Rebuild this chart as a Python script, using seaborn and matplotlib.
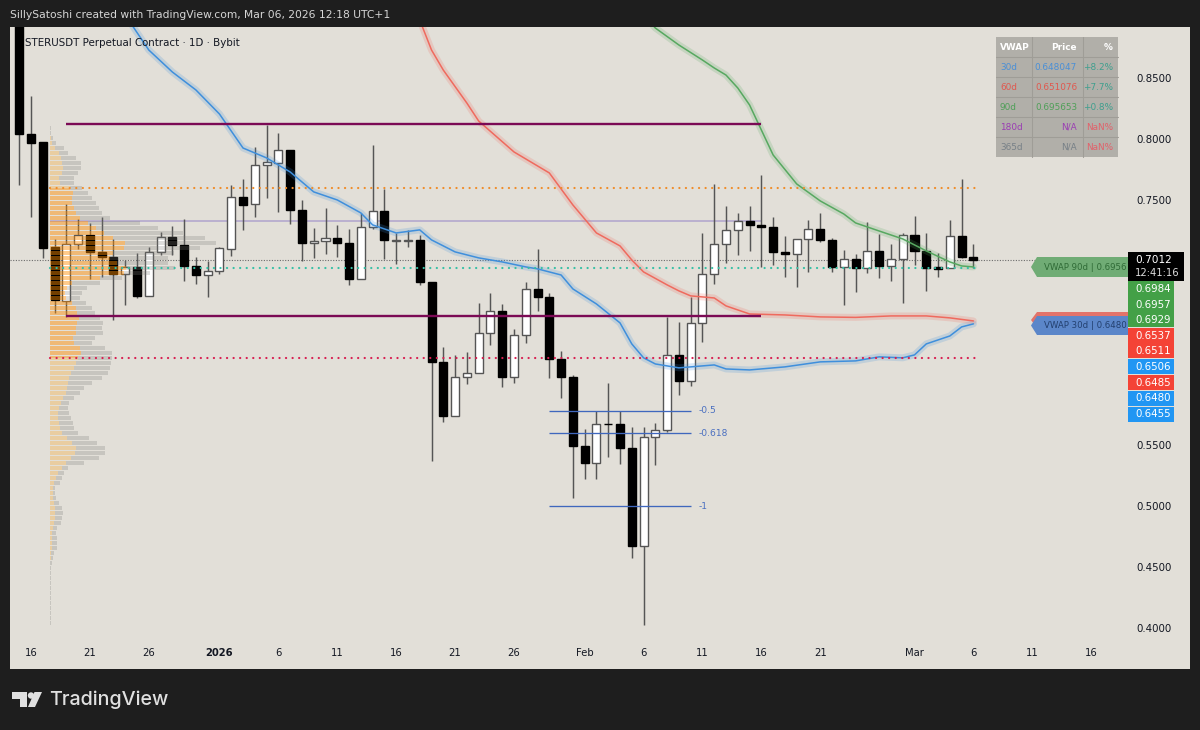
import numpy as np
import pandas as pd
import matplotlib
matplotlib.use("Agg")
import matplotlib.pyplot as plt
from matplotlib.patches import Rectangle, Polygon, Circle
import seaborn as sns

# ---------- candles (day offset from 2025-12-16) ----------
first_day = -1
opens = [0.9300,.8039,.7976,.7115,.6678,.7145,.7216,.7074,.7033,.6894,.6955,.6719,.7077,.7202,.7136,.6962,.6891,.6919,.7104,.7527,.7467,.7786,.7802,.7911,.7420,.7148,.7164,.7194,.7153,.6853,.7284,.7412,.7170,.7170,.7172,.6834,.6179,.5735,.6052,.6089,.6412,.6594,.6052,.6395,.6776,.6711,.6199,.6057,.5487,.5351,.5670,.5670,.5471,.4672,.5561,.5618,.6237,.6019,.6493,.6894,.7142,.7257,.7333,.7300,.7284,.7077,.7058,.7180,.7267,.7175,.6951,.7017,.6946,.7082,.6965,.7022,.7218,.7087,.6951,.6948,.7205,.7038]
closes = [.8039,.7971,.7112,.6684,.7145,.7218,.7079,.7036,.6894,.6955,.6719,.7077,.7202,.7136,.6962,.6891,.6919,.7107,.7527,.7464,.7791,.7810,.7911,.7420,.7148,.7164,.7194,.7153,.6853,.7284,.7412,.7175,.7175,.7175,.6834,.6177,.5735,.6052,.6089,.6414,.6594,.6052,.6395,.6776,.6709,.6199,.6057,.5487,.5351,.5670,.5665,.5471,.4672,.5561,.5618,.6237,.6019,.6496,.6894,.7145,.7259,.7333,.7300,.7284,.7074,.7060,.7180,.7267,.7175,.6951,.7017,.6948,.7082,.6965,.7022,.7218,.7087,.6943,.6938,.7205,.7033,.7011]
highs = [.9500,.8353,.7976,.7183,.7469,.7347,.7314,.7365,.7185,.7009,.7071,.7120,.7240,.7289,.7344,.7033,.7005,.7120,.7625,.7676,.7938,.8118,.8048,.7911,.7502,.7270,.7439,.7297,.7262,.7393,.7952,.7592,.7232,.7257,.7218,.6834,.6297,.6232,.6259,.6657,.6739,.6649,.6447,.6834,.7099,.6739,.6267,.6073,.5626,.5776,.6007,.5776,.5643,.5648,.5675,.6547,.6506,.6711,.7230,.7630,.7455,.7398,.7453,.7709,.7365,.7210,.7180,.7338,.7393,.7189,.7093,.7060,.7322,.7222,.7142,.7230,.7371,.7230,.7066,.7338,.7671,.7142]
lows = [.7625,.7365,.7028,.6578,.6547,.7101,.6856,.6872,.6520,.6643,.6700,.6719,.7052,.7052,.6839,.6812,.6711,.6894,.7044,.7257,.7360,.7516,.7404,.7308,.7005,.7030,.7058,.7038,.6807,.6853,.7265,.7022,.6979,.7120,.6807,.5367,.5684,.5735,.5997,.6089,.6316,.5970,.6007,.6335,.6594,.6046,.5880,.5067,.5217,.5217,.5402,.5340,.4571,.4026,.5329,.5602,.5907,.5983,.6343,.6815,.6984,.7052,.7085,.6951,.6973,.6875,.6793,.6915,.7158,.6911,.6643,.6752,.6902,.6866,.6839,.6657,.6973,.6758,.6875,.6948,.7025,.6948]

# ---------- anchored VWAPs ----------
vwap30_days = [8,10,12,14,16,18,20,22,24,26,28,29,30,31,33,34,36,38,40,42,43,45,46,48,50,51,52,53,55,57,58,59,61,64,67,70,72,74,75,76,78,79,80]
vwap30 = [.9015,.8729,.8549,.8402,.8205,.7927,.7846,.7731,.7568,.7502,.7396,.7298,.7265,.7232,.7257,.7175,.7077,.7028,.6995,.6954,.6938,.6888,.6774,.6651,.6496,.6324,.6210,.6160,.6128,.6144,.6152,.6119,.6111,.6136,.6177,.6185,.6218,.6210,.6234,.6324,.6389,.6463,.6488]
vwap60_days = [33,34,35,37,38,41,44,46,48,50,51,52,54,55,56,58,59,61,64,67,70,73,76,78,80]
vwap60 = [.8974,.8729,.8565,.8295,.8148,.7895,.7723,.7461,.7232,.7126,.7011,.6913,.6807,.6758,.6717,.6700,.6635,.6569,.6561,.6545,.6541,.6553,.6553,.6537,.6512]
vwap90_days = [52,53,55,57,58,59,60,61,63,65,67,69,70,72,74,76,78,79,80]
vwap90 = [.9015,.8909,.8770,.8647,.8582,.8524,.8418,.8279,.7870,.7633,.7494,.7387,.7314,.7248,.7183,.7085,.6995,.6962,.6954]

# ---------- levels ----------
level_high, level_low = 0.8124, 0.6553
poc_orange, poc_teal, poc_red = 0.7597, 0.6946, 0.6212
poc_lilac, last_price = 0.7330, 0.7012
fib_levels = [0.5777, 0.5593, 0.4996]
fib_labels = ["-0.5", "-0.618", "-1"]

# ---------- visible range volume profile (one value per price bin) ----------
profile_total = [1,1.5,3,6,14,18,26,31,31,28,24,24,32,38,42,46,49,52,60,90,108,133,155,166,150,124,118,118,125,100,72,50,37,32,30,36,42,45,50,53,52,53,45,42,55,62,62,61,60,58,52,42,34,30,24,19,18,19,21,23,24,28,39,47,55,55,49,34,18,14,12,10,5,5,6,9,12,13,12,11,7,6,7,7,7,4,3,2,1.5,1.5,1.5,1.5,1.5,1.5,1.5,1.5,1.5,1.5,1.5,1.5]
profile_buy = [.5,.5,1,2,5,9,11,12,13,12,9,10,20,23,22,22,24,26,30,38,46,54,63,75,74,63,60,67,76,74,50,22,17,15,16,22,26,27,29,27,26,26,23,24,30,31,28,26,24,21,19,18,17,16,13,11,9,8,8,9,10,12,17,22,26,25,21,16,12,8,6,4,3,3,3,4,5,5,5,4,3,2,2,2,2,1,1,.5,.5,.5,.5,.5,.5,.5,.5,.5,.5,.5,.5,.5]
profile_anchor_day = 1.6
profile_top, profile_step = 0.8100, 0.00409

# ---------- axis text ----------
price_ticks = [0.40,0.45,0.50,0.55,0.60,0.65,0.70,0.75,0.80,0.85]
date_ticks = ["2025-12-16","2025-12-21","2025-12-26","2026-01-01","2026-01-06","2026-01-11","2026-01-16","2026-01-21","2026-01-26","2026-02-01","2026-02-06","2026-02-11","2026-02-16","2026-02-21","2026-03-01","2026-03-06","2026-03-11","2026-03-16"]
date_labels = ["16","21","26","2026","6","11","16","21","26","Feb","6","11","16","21","Mar","6","11","16"]

tbl_rows = ["30d","60d","90d","180d","365d"]
tbl_price = ["0.648047","0.651076","0.695653","N/A","N/A"]
tbl_pct = ["+8.2%","+7.7%","+0.8%","NaN%","NaN%"]
tbl_cols = ["#4a8fd6","#e0584e","#4f9f58","#9a3db3","#778087"]
pct_cols = ["#3f9f8e","#3f9f8e","#3f9f8e","#e2606a","#e2606a"]

side_values = ["0.6984","0.6957","0.6929","0.6537","0.6511","0.6506","0.6485","0.6480","0.6455"]
side_y = [289,305,320,336,351,367,383,398,414]

DARK, PANEL = "#1e1e1e", "#e2dfd8"
UP_EDGE = "#555555"
sns.set_theme(style="white")
plt.rcParams["font.family"] = ["DejaVu Sans"]

fig = plt.figure(figsize=(12, 7.3), dpi=100, facecolor=DARK)
W, H = 1200, 730

def overlay(z):
    a = fig.add_axes([0, 0, 1, 1], zorder=z)
    a.set_xlim(0, W); a.set_ylim(H, 0); a.axis("off")
    a.patch.set_alpha(0)
    return a

bg = overlay(0)
fg = overlay(5)
bg.add_patch(Rectangle((10, 27), 1180, 642, color=PANEL, lw=0))

L, R, T, B = 10, 1127, 27, 640
ax = fig.add_axes([L/W, 1-B/H, (R-L)/W, (B-T)/H], zorder=2)
ax.patch.set_alpha(0)
for s in ax.spines.values():
    s.set_visible(False)
PX_DAY, X0 = 11.78, 31
PX_PRICE, Y085 = 1222.0, 78
ax.set_xlim((L-X0)/PX_DAY, (R-X0)/PX_DAY)
ax.set_ylim(0.85-(B-Y085)/PX_PRICE, 0.85-(T-Y085)/PX_PRICE)

# candles
days = np.arange(first_day, first_day+len(opens))
o, c = np.array(opens), np.array(closes)
up = c >= o
ax.vlines(days, lows, highs, color=UP_EDGE, lw=1.05, zorder=2)
body_low = np.minimum(o, c)
body_h = np.abs(c-o)
ax.bar(days[up], body_h[up], bottom=body_low[up], width=0.68, color="white", edgecolor=UP_EDGE, lw=1.0, zorder=3)
ax.bar(days[~up], body_h[~up], bottom=body_low[~up], width=0.68, color="black", edgecolor="black", lw=1.0, zorder=3)

# anchored VWAP lines through seaborn, with soft halo
for dd, vv, col in [(vwap30_days, vwap30, "#3f8fdc"), (vwap60_days, vwap60, "#ef6a5e"), (vwap90_days, vwap90, "#57a860")]:
    df = pd.DataFrame({"day": dd, "price": vv})
    sns.lineplot(data=df, x="day", y="price", ax=ax, color=col, lw=5.0, alpha=0.2, errorbar=None, legend=False, zorder=4)
    sns.lineplot(data=df, x="day", y="price", ax=ax, color=col, lw=1.1, errorbar=None, legend=False, zorder=4.5)
ax.set_xlabel(""); ax.set_ylabel("")

# volume profile
bins = profile_top - profile_step*np.arange(len(profile_total))
total = np.array(profile_total)/PX_DAY
buy = np.array(profile_buy)/PX_DAY
stripe = profile_step/2
for shift in (0, stripe):
    lev = bins - shift
    inside = (lev <= poc_orange) & (lev >= poc_red)
    ax.barh(lev[inside], buy[inside], left=profile_anchor_day, height=stripe*0.8, color="#ff8c00", alpha=0.45, lw=0, zorder=5)
    ax.barh(lev[~inside], buy[~inside], left=profile_anchor_day, height=stripe*0.8, color="#ff9d10", alpha=0.27, lw=0, zorder=5)
    ax.barh(lev, (total-buy), left=profile_anchor_day+buy, height=stripe*0.8, color="#7d7d78", alpha=0.26, lw=0, zorder=5)

# horizontal levels
d_start, d_end = profile_anchor_day, 80.5
ax.hlines([level_high, level_low], 2.95, 62, color="#7b0a55", lw=1.7, zorder=6)
ax.hlines(poc_lilac, d_start, 62, color="#9b8cc8", lw=1.2, alpha=0.65, zorder=1.5)
for lv, col in [(poc_orange, "#f08c28"), (poc_teal, "#35c0a5"), (poc_red, "#d81e50")]:
    ax.plot([d_start, d_end], [lv, lv], color=col, lw=1.6, ls=(0, (0.05, 2.9)), dash_capstyle="round", zorder=6)
ax.axhline(last_price, color="#6b6b6b", lw=0.8, ls=(0, (1, 1.4)), zorder=1.8)

# fib levels
for lv, lab in zip(fib_levels, fib_labels):
    ax.hlines(lv, 44, 56, color="#3f67bd", lw=0.95, zorder=6)
    ax.text(56.7, lv, lab, color="#4a6fc0", fontsize=6.6, va="center", ha="left", zorder=6)

# axis ticks
ax.yaxis.tick_right()
ax.set_yticks(price_ticks)
ax.set_yticklabels([f"{p:.4f}" for p in price_ticks], fontsize=7.4, color="#131722")
ax.tick_params(axis="y", length=0, pad=7)
tick_days = [(pd.Timestamp(d)-pd.Timestamp("2025-12-16")).days for d in date_ticks]
ax.set_xticks(tick_days)
ax.set_xticklabels(date_labels, fontsize=7.2, color="#131722")
ax.tick_params(axis="x", length=0, pad=5.5)
for t in ax.get_xticklabels():
    if t.get_text() == "2026":
        t.set_fontweight("bold")

# header + chart title
fig.text(10/W, 1-15/H, "SillySatoshi created with TradingView.com, Mar 06, 2026 12:18 UTC+1", color="#d6d6d6", fontsize=7.75, va="center", ha="left")
fg.text(25, 43, "STERUSDT Perpetual Contract · 1D · Bybit", color="#131722", fontsize=7.4, va="center", ha="left")

# table panel
xs = [996, 1032, 1083, 1118]
ys = [37, 57, 77, 97, 117, 137, 157]
fg.add_patch(Rectangle((xs[0], ys[0]), xs[3]-xs[0], ys[-1]-ys[0], color="#b1afa9", lw=0))
for x in xs[1:-1]:
    fg.plot([x, x], [ys[0], ys[-1]], color="#9f9d97", lw=0.8)
for y in ys[1:-1]:
    fg.plot([xs[0], xs[3]], [y, y], color="#9f9d97", lw=0.8)
tkw = dict(fontsize=6.4, va="center")
fg.text(1000, 47, "VWAP", color="white", ha="left", fontweight="bold", **tkw)
fg.text(1077, 47, "Price", color="white", ha="right", fontweight="bold", **tkw)
fg.text(1113, 47, "%", color="white", ha="right", fontweight="bold", **tkw)
for i in range(5):
    yy = (ys[i+1]+ys[i+2])/2
    fg.text(1000, yy, tbl_rows[i], color=tbl_cols[i], ha="left", **tkw)
    fg.text(1077, yy, tbl_price[i], color=tbl_cols[i], ha="right", **tkw)
    fg.text(1113, yy, tbl_pct[i], color=pct_cols[i], ha="right", **tkw)

# side tags
def pill(y0, y1, col, x0=1037):
    mid = (y0+y1)/2
    fg.add_patch(Polygon([(1031, mid), (x0, y0), (1128, y0), (1128, y1), (x0, y1)], closed=True, color=col, lw=0))
pill(257, 277, "#70ac75")
fg.text(1044, 267, "VWAP 90d | 0.6956", color="#2f6b36", fontsize=6.2, va="center", ha="left")
pill(312, 328, "#e2736a")
pill(316, 335, "#5b86c9")
fg.text(1044, 325.5, "VWAP 30d | 0.6480", color="#23406f", fontsize=6.2, va="center", ha="left")

fg.add_patch(Rectangle((1128, 252), 56, 29, color="black", lw=0))
fg.text(1154, 260, "0.7012", color="white", fontsize=7.6, ha="center", va="center")
fg.text(1157, 273, "12:41:16", color="#dddddd", fontsize=7.2, ha="center", va="center")
for y0, y1, col in [(281, 327, "#43a047"), (328, 358, "#f44336"), (359, 374, "#2196f3"), (375, 390, "#f44336"), (391, 406, "#2196f3"), (407, 422, "#2196f3")]:
    fg.add_patch(Rectangle((1128, y0), 46, y1-y0, color=col, lw=0))
for v, y in zip(side_values, side_y):
    fg.text(1153, y, v, color="white", fontsize=7.4, ha="center", va="center")

# logo
logo = "#e0e0e0"
fg.add_patch(Polygon([(12, 692), (27, 692), (27, 707), (20, 707), (20, 699), (12, 699)], closed=True, color=logo, lw=0))
fg.add_patch(Circle((31, 695.5), 3.2, color=logo, lw=0))
fg.add_patch(Polygon([(34.5, 692), (42, 692), (35, 707), (28, 707)], closed=True, color=logo, lw=0))
fg.text(49, 700, "TradingView", color=logo, fontsize=14.2, family="Inter", fontweight="medium", va="center", ha="left")

fig.savefig("out.png", dpi=100, facecolor=DARK)
